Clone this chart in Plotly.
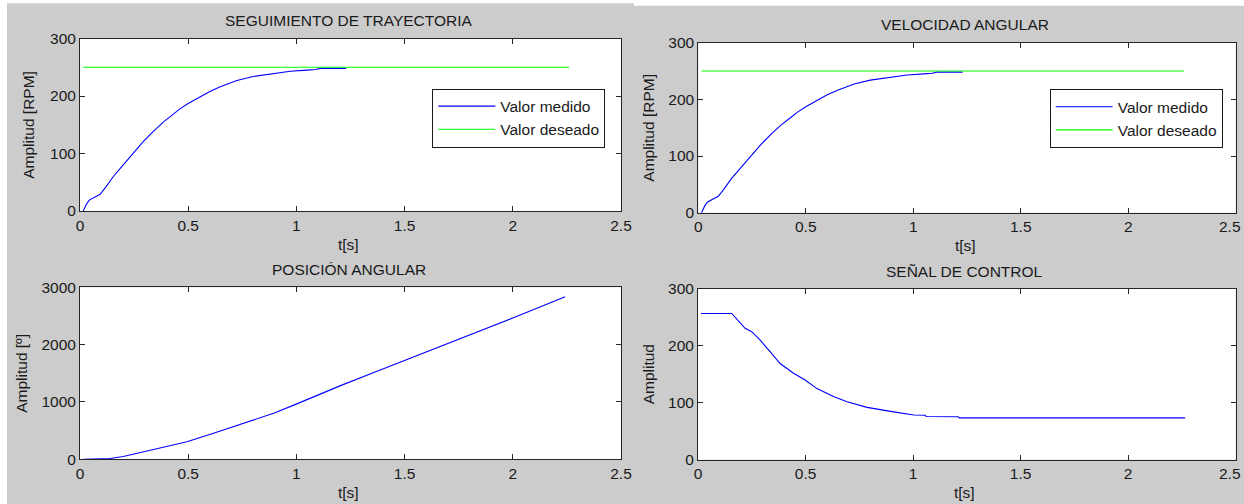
import plotly.graph_objects as go

# ---- data -------------------------------------------------------------
# measured angular speed [RPM]
t_vel = [0.015, 0.03, 0.043, 0.07, 0.093, 0.12, 0.154, 0.19, 0.224, 0.247,
         0.293, 0.34, 0.386, 0.43, 0.463, 0.50, 0.54, 0.60, 0.648, 0.69,
         0.725, 0.80, 0.88, 0.972, 1.05, 1.088, 1.11, 1.23]
vel_med = [0, 12, 19, 24, 29, 42, 60, 76, 91, 100,
           121, 139, 155, 168, 178, 187, 196, 208, 216, 222,
           227, 234, 238, 243, 245, 246, 248, 248]

# reference speed [RPM]
t_des = [0.015, 2.26]
vel_des = [250, 250]

# angular position [deg]
t_pos = [0.015, 0.05, 0.10, 0.139, 0.20, 0.278, 0.34, 0.401, 0.494, 0.617,
         0.756, 0.895, 0.988, 1.11, 1.204, 1.355, 1.505, 1.68, 1.852, 2.003,
         2.242]
pos = [0, 2, 8, 15, 50, 120, 170, 225, 305, 455,
       630, 805, 945, 1140, 1285, 1510, 1730, 1990, 2250, 2470,
       2835]

# control signal
t_ctl = [0.014, 0.157, 0.19, 0.219, 0.25, 0.289, 0.33, 0.382, 0.444, 0.498,
         0.553, 0.63, 0.693, 0.786, 0.91, 1.003, 1.057, 1.06, 1.21, 1.215,
         2.265]
ctl = [257, 257, 243, 231, 225, 210, 192, 169, 152, 140,
       125, 111, 102, 92, 84, 78.5, 78, 76, 75.6, 73.5,
       73.5]

x_ticks = [0, 0.5, 1, 1.5, 2, 2.5]
x_ticktext = ["0", "0.5", "1", "1.5", "2", "2.5"]
rpm_ticks = [0, 100, 200, 300]
pos_ticks = [0, 1000, 2000, 3000]

titles = ["SEGUIMIENTO DE TRAYECTORIA", "VELOCIDAD ANGULAR",
          "POSICIÓN ANGULAR", "SEÑAL DE CONTROL"]
ylabels = ["Amplitud [RPM]", "Amplitud [RPM]", "Amplitud [º]", "Amplitud"]
legend_names = ["Valor medido", "Valor deseado"]

# ---- layout geometry (pixels) ------------------------------------------
W, H = 1244, 504
FONT = "Liberation Sans, Arial, sans-serif"
TXT = "#1a1a1a"
AX = "#262626"
BLUE = "#0000ff"
GREEN = "#00ff00"

# (left, right, top, bottom) of each plotting box
boxes = [
    (80.0, 621.0, 38.5, 211.0),
    (698.3, 1235.7, 42.7, 212.7),
    (80.0, 621.0, 287.3, 459.3),
    (698.0, 1235.7, 289.0, 459.7),
]


def px(x):
    return x / W


def py(y):
    return 1 - y / H


fig = go.Figure()

# top-left: trajectory tracking
fig.add_trace(go.Scatter(x=t_vel, y=vel_med, mode="lines", name=legend_names[0],
                         line=dict(color=BLUE, width=1.1), xaxis="x", yaxis="y",
                         legend="legend"))
fig.add_trace(go.Scatter(x=t_des, y=vel_des, mode="lines", name=legend_names[1],
                         line=dict(color=GREEN, width=1.1), xaxis="x", yaxis="y",
                         legend="legend"))
# top-right: angular speed
fig.add_trace(go.Scatter(x=t_vel, y=vel_med, mode="lines", name=legend_names[0],
                         line=dict(color=BLUE, width=1.1), xaxis="x2", yaxis="y2",
                         legend="legend2"))
fig.add_trace(go.Scatter(x=t_des, y=vel_des, mode="lines", name=legend_names[1],
                         line=dict(color=GREEN, width=1.1), xaxis="x2", yaxis="y2",
                         legend="legend2"))
# bottom-left: angular position
fig.add_trace(go.Scatter(x=t_pos, y=pos, mode="lines", showlegend=False,
                         line=dict(color=BLUE, width=1.1), xaxis="x3", yaxis="y3"))
# bottom-right: control signal
fig.add_trace(go.Scatter(x=t_ctl, y=ctl, mode="lines", showlegend=False,
                         line=dict(color=BLUE, width=1.1), xaxis="x4", yaxis="y4"))

axis_common = dict(showline=True, linecolor=AX, linewidth=1, mirror="ticks",
                   ticks="inside", ticklen=5, tickcolor=AX, tickwidth=1,
                   showgrid=False, zeroline=False, fixedrange=True,
                   automargin=False, ticklabeloverflow="allow",
                   tickfont=dict(family=FONT, size=15.5, color=TXT))

layout = dict(
    width=W, height=H,
    margin=dict(l=0, r=0, t=0, b=0, pad=0, autoexpand=False),
    paper_bgcolor="#cccccc",
    plot_bgcolor="#ffffff",
    font=dict(family=FONT, size=15.5, color=TXT),
    showlegend=True,
)

yranges = [[0, 300], [0, 300], [0, 3000], [0, 300]]
yticks = [rpm_ticks, rpm_ticks, pos_ticks, rpm_ticks]
annotations = []
for i, (l, r, t, b) in enumerate(boxes):
    sfx = "" if i == 0 else str(i + 1)
    right_col = i in (1, 3)
    # on the right-hand panels the last x label sits against the window edge,
    # so it is written separately, flush with that edge
    ticktext = x_ticktext[:-1] + [""] if right_col else x_ticktext
    layout["xaxis" + sfx] = dict(axis_common, domain=[px(l), px(r)],
                                 range=[0, 2.5], tickvals=x_ticks,
                                 ticktext=ticktext,
                                 anchor="y" + sfx)
    layout["yaxis" + sfx] = dict(axis_common, domain=[py(b), py(t)],
                                 range=yranges[i], tickvals=yticks[i],
                                 anchor="x" + sfx)
    if right_col:
        annotations.append(dict(text=x_ticktext[-1], x=px(W - 1), y=py(b + 14),
                                xref="paper", yref="paper", showarrow=False,
                                xanchor="right", yanchor="middle",
                                font=dict(family=FONT, size=15.5, color=TXT)))
    cx = (l + r) / 2
    # subplot title
    annotations.append(dict(text=titles[i], x=px(cx - 2), y=py(t - 18),
                            xref="paper", yref="paper", showarrow=False,
                            xanchor="center", yanchor="middle",
                            font=dict(family=FONT, size=15.5, color=TXT)))
    # x label
    annotations.append(dict(text="t[s]", x=px(cx - 2), y=py(b + 33),
                            xref="paper", yref="paper", showarrow=False,
                            xanchor="center", yanchor="middle",
                            font=dict(family=FONT, size=15.5, color=TXT)))

ylab_x = [29, 649, 21.5, 648]
for i, (l, r, t, b) in enumerate(boxes):
    annotations.append(dict(text=ylabels[i], x=px(ylab_x[i]), y=py((t + b) / 2),
                            xref="paper", yref="paper", showarrow=False,
                            textangle=-90, xanchor="center", yanchor="middle",
                            font=dict(family=FONT, size=15.5, color=TXT)))

legend_style = dict(bgcolor="#ffffff", bordercolor="#1a1a1a", borderwidth=1,
                    font=dict(family=FONT, size=15.5, color=TXT),
                    xanchor="left", yanchor="top", itemwidth=57,
                    tracegroupgap=0)
layout["legend"] = dict(legend_style, x=px(432.3), y=py(88.5))
layout["legend2"] = dict(legend_style, x=px(1049.7), y=py(89.2))

# white page edge around the figure window
shapes = [
    dict(type="rect", xref="paper", yref="paper", x0=0, x1=px(7), y0=0, y1=1,
         fillcolor="#ffffff", line=dict(width=0), layer="below"),
    dict(type="rect", xref="paper", yref="paper", x0=0, x1=px(634), y0=py(3.3),
         y1=1, fillcolor="#ffffff", line=dict(width=0), layer="below"),
    dict(type="rect", xref="paper", yref="paper", x0=px(634), x1=1, y0=py(5.7),
         y1=1, fillcolor="#ffffff", line=dict(width=0), layer="below"),
]

layout["annotations"] = annotations
layout["shapes"] = shapes
fig.update_layout(**layout)

fig.write_html("out.html", config={"displayModeBar": False})
